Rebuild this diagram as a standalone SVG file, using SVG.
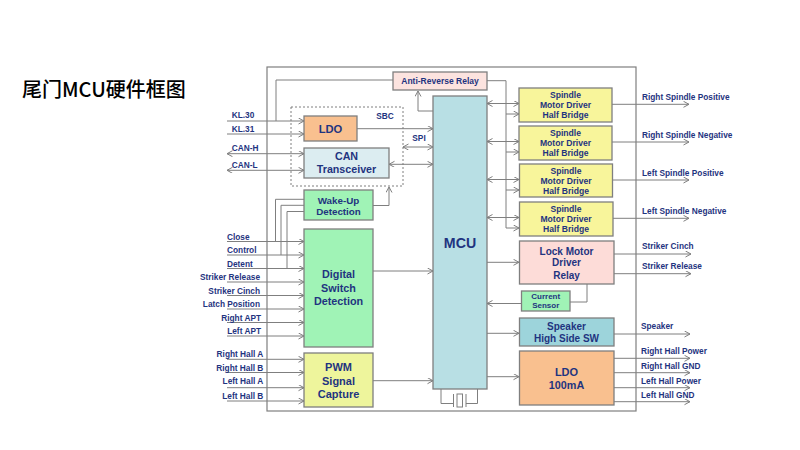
<svg xmlns="http://www.w3.org/2000/svg" width="800" height="450" viewBox="0 0 800 450">
<defs>
<marker id="ah" markerWidth="7" markerHeight="7" refX="6" refY="3" orient="auto-start-reverse" markerUnits="userSpaceOnUse">
<path d="M0.5,0 L6,3 L0.5,6" fill="none" stroke="#7f7f7f" stroke-width="1"/>
</marker>
<style>
.nd{stroke:#7f7f7f;stroke-width:1.3}
.ln{fill:none;stroke:#7f7f7f;stroke-width:1}
.a{marker-end:url(#ah)}
.b{marker-start:url(#ah);marker-end:url(#ah)}
text{font-family:"Liberation Sans",Arial,sans-serif;font-weight:bold;fill:#1f3480}
.lb{font-size:8.3px}
.ctr{text-anchor:middle}
.end{text-anchor:end}
</style>
</defs>
<rect width="800" height="450" fill="#ffffff"/>
<text x="22" y="97" style="font-family:'Noto Sans CJK SC','Noto Sans',sans-serif;font-weight:500;font-size:20px;fill:#000">尾门MCU硬件框图</text>

<rect x="267" y="67" width="369" height="344" fill="none" stroke="#7f7f7f" stroke-width="1.2"/>
<g id="sbc"><rect x="291" y="107" width="112" height="79" fill="none" stroke="#7f7f7f" stroke-width="1" stroke-dasharray="2,2"/>
<text x="385" y="119" class="lb ctr">SBC</text></g>

<g id="connectors">
<path class="ln a" d="M227,121 H304"/>
<path class="ln" d="M276,121 V80 H393"/>
<path class="ln a" d="M227,134 H304"/>
<path class="ln b" d="M227,153.7 H304"/>
<path class="ln b" d="M227,170.3 H304"/>
<path class="ln a" d="M357,128.7 H433"/>
<path class="ln b" d="M389,164.3 H433"/>
<path class="ln b" d="M403,147 H433"/>
<path class="ln a" d="M433,111 H418 V91"/>
<path class="ln a" d="M373,205.5 H389 V187"/>
<path class="ln" d="M304,199.3 H275.5 V241.5"/>
<path class="ln" d="M304,205.3 H281 V255"/>
<path class="ln" d="M304,211.5 H287 V268.5"/>
<path class="ln a" d="M227,241.5 H304"/>
<path class="ln a" d="M227,255 H304"/>
<path class="ln a" d="M227,268.5 H304"/>
<path class="ln a" d="M227,282 H304"/>
<path class="ln a" d="M227,295.5 H304"/>
<path class="ln a" d="M227,309 H304"/>
<path class="ln a" d="M227,322.5 H304"/>
<path class="ln a" d="M227,336 H304"/>
<path class="ln a" d="M373,271 H433"/>
<path class="ln a" d="M227,359.3 H304"/>
<path class="ln a" d="M227,372.5 H304"/>
<path class="ln a" d="M227,387.7 H304"/>
<path class="ln a" d="M227,401 H304"/>
<path class="ln a" d="M373,380.7 H433"/>
<path class="ln" d="M441,389 V403.5 H453.5 M453.5,394 V407 M466,394 V407 M466,403.5 H477.5 V389"/>
<rect x="457" y="394" width="5.5" height="13" fill="none" stroke="#7f7f7f" stroke-width="1"/>
<path class="ln" d="M487,80.7 H506 V228"/>
<path class="ln b" d="M487,103.5 H519"/>
<path class="ln a" d="M506,114 H519"/>
<path class="ln b" d="M487,141.5 H519"/>
<path class="ln a" d="M506,152 H519"/>
<path class="ln b" d="M487,179.5 H519"/>
<path class="ln a" d="M506,190 H519"/>
<path class="ln b" d="M487,217.5 H519"/>
<path class="ln a" d="M506,228 H519"/>
<path class="ln a" d="M612,104.3 H689"/>
<path class="ln a" d="M612,142 H689"/>
<path class="ln a" d="M612,180 H689"/>
<path class="ln a" d="M612,218.3 H689"/>
<path class="ln a" d="M487,262.3 H519"/>
<path class="ln a" d="M614,254 H691"/>
<path class="ln a" d="M614,273.7 H691"/>
<path class="ln" d="M587,284 V302 H570"/>
<path class="ln a" d="M521,303.5 H487"/>
<path class="ln a" d="M487,333.3 H519"/>
<path class="ln a" d="M614,334 H690"/>
<path class="ln a" d="M487,376.7 H519"/>
<path class="ln a" d="M614,358.3 H690"/>
<path class="ln a" d="M614,372.7 H690"/>
<path class="ln a" d="M614,387.7 H690"/>
<path class="ln a" d="M614,401.7 H690"/>
</g>

<g id="labels-left">
<text x="231.7" y="118" class="lb">KL.30</text>
<text x="231.7" y="131.5" class="lb">KL.31</text>
<text x="231.7" y="150.5" class="lb">CAN-H</text>
<text x="231.7" y="167.5" class="lb">CAN-L</text>
<text x="227" y="239.7" class="lb">Close</text>
<text x="227" y="253.2" class="lb">Control</text>
<text x="227" y="266.7" class="lb">Detent</text>
<text x="260" y="280.2" class="lb end">Striker Release</text>
<text x="260" y="293.7" class="lb end">Striker Cinch</text>
<text x="260" y="307.2" class="lb end">Latch Position</text>
<text x="261" y="320.7" class="lb end">Right  APT</text>
<text x="261" y="334.2" class="lb end">Left  APT</text>
<text x="263.3" y="357.3" class="lb end">Right Hall A</text>
<text x="263.3" y="370.5" class="lb end">Right Hall B</text>
<text x="263.3" y="384.3" class="lb end">Left Hall A</text>
<text x="263.3" y="398.5" class="lb end">Left Hall B</text>
<text x="419" y="141" class="lb ctr">SPI</text>
</g>
<g id="labels-right">
<text x="642" y="100" class="lb">Right Spindle  Positive</text>
<text x="642" y="138" class="lb">Right Spindle  Negative</text>
<text x="642" y="175.7" class="lb">Left Spindle  Positive</text>
<text x="642" y="214" class="lb">Left Spindle  Negative</text>
<text x="642" y="249.3" class="lb">Striker Cinch</text>
<text x="642" y="269" class="lb">Striker Release</text>
<text x="641" y="329" class="lb">Speaker</text>
<text x="641" y="354" class="lb">Right Hall  Power</text>
<text x="641" y="369" class="lb">Right Hall  GND</text>
<text x="641" y="383.7" class="lb">Left Hall Power</text>
<text x="641" y="398" class="lb">Left Hall GND</text>
</g>

<g id="anti-reverse-relay"><rect class="nd" x="393" y="72" width="94" height="18" fill="#fce3df"/>
<text x="440" y="84" class="ctr" font-size="8.5">Anti-Reverse Relay</text></g>
<g id="ldo-sbc"><rect class="nd" x="304" y="116" width="53" height="25" fill="#f9c08f"/>
<text x="330.5" y="132.5" class="ctr" font-size="11.2">LDO</text></g>
<g id="can"><rect class="nd" x="304" y="148" width="85" height="30" fill="#dcedf1"/>
<text x="346.5" y="159.5" class="ctr" font-size="10.7">CAN</text>
<text x="346.5" y="172.8" class="ctr" font-size="10.7">Transceiver</text></g>
<g id="wakeup"><rect class="nd" x="304" y="190" width="69" height="30" fill="#a0f3b6"/>
<text x="338.5" y="203.5" class="ctr" font-size="9.8">Wake-Up</text>
<text x="338.5" y="215.2" class="ctr" font-size="9.8">Detection</text></g>
<g id="digital"><rect class="nd" x="304" y="229" width="69" height="118" fill="#a0f3b6"/>
<text x="338.5" y="278" class="ctr" font-size="10.8">Digital</text>
<text x="338.5" y="291.5" class="ctr" font-size="10.8">Switch</text>
<text x="338.5" y="305" class="ctr" font-size="10.8">Detection</text></g>
<g id="pwm"><rect class="nd" x="304" y="353" width="69" height="54" fill="#eef59c"/>
<text x="338.5" y="370.5" class="ctr" font-size="11">PWM</text>
<text x="338.5" y="384.5" class="ctr" font-size="11">Signal</text>
<text x="338.5" y="398" class="ctr" font-size="11">Capture</text></g>
<g id="mcu"><rect class="nd" x="433" y="96" width="54" height="293" fill="#b8dfe4"/>
<text x="460" y="248" class="ctr" font-size="14.2">MCU</text></g>
<g id="spindle1"><rect class="nd" x="519" y="88" width="93" height="34" fill="#f8f59b"/>
<text x="565.5" y="97.7" class="ctr" font-size="8.6">Spindle</text>
<text x="565.5" y="107.7" class="ctr" font-size="8.6">Motor Driver</text>
<text x="565.5" y="118" class="ctr" font-size="8.6">Half Bridge</text></g>
<g id="spindle2"><rect class="nd" x="519" y="126" width="93" height="34" fill="#f8f59b"/>
<text x="565.5" y="135.7" class="ctr" font-size="8.6">Spindle</text>
<text x="565.5" y="145.7" class="ctr" font-size="8.6">Motor Driver</text>
<text x="565.5" y="156" class="ctr" font-size="8.6">Half Bridge</text></g>
<g id="spindle3"><rect class="nd" x="519.5" y="164" width="93" height="33" fill="#f8f59b"/>
<text x="566" y="173.7" class="ctr" font-size="8.6">Spindle</text>
<text x="566" y="183.7" class="ctr" font-size="8.6">Motor Driver</text>
<text x="566" y="194" class="ctr" font-size="8.6">Half Bridge</text></g>
<g id="spindle4"><rect class="nd" x="519.5" y="202" width="93.5" height="34" fill="#f8f59b"/>
<text x="566" y="211.7" class="ctr" font-size="8.6">Spindle</text>
<text x="566" y="221.7" class="ctr" font-size="8.6">Motor Driver</text>
<text x="566" y="232" class="ctr" font-size="8.6">Half Bridge</text></g>
<g id="lock"><rect class="nd" x="519.5" y="241" width="94.5" height="43" fill="#fddcd8"/>
<text x="566.5" y="254.5" class="ctr" font-size="10">Lock Motor</text>
<text x="566.5" y="266" class="ctr" font-size="10">Driver</text>
<text x="566.5" y="278.5" class="ctr" font-size="10">Relay</text></g>
<g id="current"><rect class="nd" x="521.5" y="291" width="48.5" height="20" fill="#a0f3b6"/>
<text x="545.7" y="299" class="ctr" font-size="8">Current</text>
<text x="545.7" y="308" class="ctr" font-size="8">Sensor</text></g>
<g id="speaker"><rect class="nd" x="519.5" y="318" width="94.5" height="28" fill="#9dd4db"/>
<text x="566.5" y="330.2" class="ctr" font-size="10">Speaker</text>
<text x="566.5" y="341.8" class="ctr" font-size="10">High Side SW</text></g>
<g id="ldo100"><rect class="nd" x="519.5" y="351" width="94.5" height="54" fill="#f9c08f"/>
<text x="566.5" y="375.5" class="ctr" font-size="11">LDO</text>
<text x="566.5" y="389" class="ctr" font-size="10.8">100mA</text></g>
</svg>
